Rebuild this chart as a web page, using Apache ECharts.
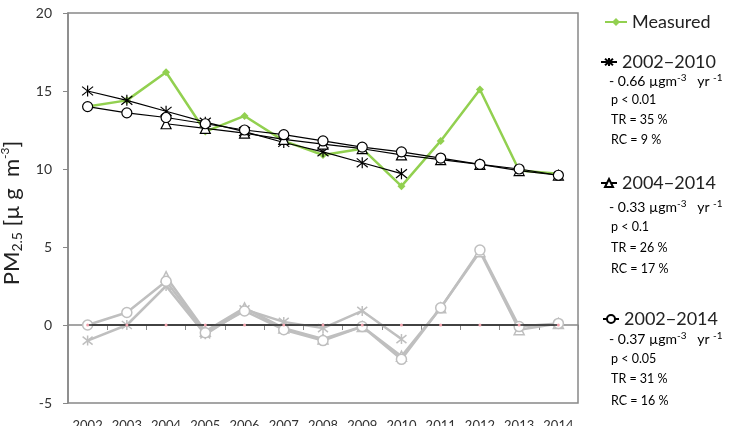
<!DOCTYPE html>
<html><head><meta charset="utf-8">
<script src="https://cdn.jsdelivr.net/npm/echarts@6/dist/echarts.min.js"></script>
<style>html,body{margin:0;padding:0;background:#fff}#c{width:732px;height:426px}</style>
</head><body><div id="c"></div>
<script>
var years = ['2002','2003','2004','2005','2006','2007','2008','2009','2010','2011','2012','2013','2014'];
var measured = [14.0, 14.4, 16.2, 12.4, 13.4, 11.8, 10.9, 11.3, 8.9, 11.8, 15.1, 9.9, 9.7];
var trend0210 = [15.0, 14.4, 13.7, 13.0, 12.4, 11.7, 11.1, 10.4, 9.7, null, null, null, null];
var trend0414 = [null, null, 12.9, 12.6, 12.3, 11.9, 11.6, 11.3, 10.9, 10.6, 10.3, 9.9, 9.6];
var trend0214 = [14.0, 13.6, 13.3, 12.9, 12.5, 12.2, 11.8, 11.4, 11.1, 10.7, 10.3, 10.0, 9.6];
var resid0210 = [-1.0, 0.0, 2.5, -0.6, 1.0, 0.2, -0.2, 0.9, -0.9, null, null, null, null];
var resid0414 = [null, null, 3.1, -0.4, 1.1, -0.2, -0.9, -0.1, -2.0, 1.1, 4.7, -0.3, 0.1];
var resid0214 = [0.0, 0.8, 2.8, -0.5, 0.9, -0.3, -1.0, -0.1, -2.2, 1.1, 4.8, -0.1, 0.1];
var zeroLine = [0, 0, 0, 0, 0, 0, 0, 0, 0, 0, 0, 0, 0];
var yTicks = {min: -5, max: 20, interval: 5};
var statLines = [
  ['- 0.66 ', 'p < 0.01', 'TR = 35 %', 'RC = 9 %'],
  ['- 0.33 ', 'p < 0.1', 'TR = 26 %', 'RC = 17 %'],
  ['- 0.37 ', 'p < 0.05', 'TR = 31 %', 'RC = 16 %']
];

var FONT = 'Lato';
var star = 'path://M0,-10L0,10M-8,-8L8,8M-8,8L8,-8';
var GRAY = '#bfbfbf';

function blackSeries(name, data, sym, size) {
  return {name: name, type: 'line', data: data, symbol: sym, symbolSize: size, z: 5,
    lineStyle: {color: '#000', width: 1.2}, itemStyle: {color: '#fff', borderColor: '#000', borderWidth: 1.2},
    emphasis: {disabled: true}};
}
function graySeries(data, sym, size) {
  return {type: 'line', data: data, symbol: sym, symbolSize: size, z: 3,
    lineStyle: {color: GRAY, width: 2.5}, itemStyle: {color: '#fff', borderColor: GRAY, borderWidth: 1.5},
    emphasis: {disabled: true}};
}

var series = [
  graySeries(resid0210, star, 10),
  graySeries(resid0414, 'triangle', 10),
  graySeries(resid0214, 'circle', 10),
  {type: 'line', data: zeroLine, symbol: 'circle', symbolSize: 3, z: 4,
   lineStyle: {color: '#222', width: 1.5}, itemStyle: {color: '#f4a6b0', borderWidth: 0}},
  {name: 'Measured', type: 'line', data: measured, symbol: 'diamond', symbolSize: 8, z: 4,
   lineStyle: {color: '#92d050', width: 2.5}, itemStyle: {color: '#92d050'}},
  blackSeries('2002\u22122010', trend0210, star, 11),
  blackSeries('2004\u22122014', trend0414, 'triangle', 10),
  blackSeries('2002\u22122014', trend0214, 'circle', 10)
];
series[5].itemStyle = {color: 'none', borderColor: '#000', borderWidth: 1.2};
series[0].itemStyle = {color: 'none', borderColor: GRAY, borderWidth: 1.5};

function leg(name, left, top, w) {
  return {data: [name], left: left, top: top, padding: 0, itemWidth: w, itemHeight: 10,
    selectedMode: false, itemGap: 4,
    textStyle: {fontFamily: FONT, fontSize: 18, color: '#222', lineHeight: 20}};
}

var rich = {
  t: {fontFamily: FONT, fontSize: 12.5, color: '#333', lineHeight: 16},
  u: {fontFamily: FONT, fontSize: 14, color: '#333', lineHeight: 16},
  s: {fontFamily: FONT, fontSize: 10, color: '#333', lineHeight: 10, verticalAlign: 'top'}
};
var graphics = [];
var blockTops = [81, 207, 339];
var gaps = [[0, 20, 40, 60], [0, 21, 42, 63], [0, 21, 41, 63]];
statLines.forEach(function (lines, b) {
  lines.forEach(function (txt, i) {
    var text = i === 0 ? '{u|' + txt + '\u00b5gm}{s|-3}{u|   yr }{s|-1}' : '{t|' + txt + '}';
    graphics.push({type: 'text', left: i === 0 ? 609 : 611, top: blockTops[b] + gaps[b][i] - 8,
      style: {text: text, rich: rich}});
  });
});

var chart = echarts.init(document.getElementById('c'));
chart.setOption({
  animation: false,
  backgroundColor: '#fff',
  grid: {left: 68, top: 13, right: 154, bottom: 23, show: true, borderColor: '#888', borderWidth: 1.5,
    outerBoundsMode: 'none', containLabel: false},
  legend: [
    leg('Measured', 604, 12, 22),
    leg('2002\u22122010', 600, 52, 16),
    leg('2004\u22122014', 600, 173, 16),
    leg('2002\u22122014', 602, 309, 16)
  ],
  xAxis: {type: 'category', data: years, boundaryGap: true,
    axisLine: {lineStyle: {color: '#888', width: 1.5}},
    axisTick: {show: true, length: 5, lineStyle: {color: '#888'}},
    axisLabel: {fontFamily: FONT, fontSize: 13, color: '#333', margin: 16, interval: 0}},
  yAxis: {type: 'value', min: yTicks.min, max: yTicks.max, interval: yTicks.interval,
    name: '{a|PM}{b|2.5}{a| [\u00b5 g  m}{c|-3}{a|]}', nameLocation: 'middle', nameGap: 42,
    nameTextStyle: {padding: [0, 10, 0, 0], rich: {
      a: {fontFamily: FONT, fontSize: 22, color: '#222', lineHeight: 26},
      b: {fontFamily: FONT, fontSize: 14, color: '#222', lineHeight: 14, verticalAlign: 'bottom'},
      c: {fontFamily: FONT, fontSize: 12, color: '#222', lineHeight: 12, verticalAlign: 'top'}
    }},
    splitLine: {show: false},
    axisLine: {show: true, lineStyle: {color: '#888', width: 1.5}},
    axisTick: {show: true, length: 5, lineStyle: {color: '#888'}},
    axisLabel: {fontFamily: FONT, fontSize: 14, color: '#333', margin: 16}},
  graphic: graphics,
  series: series
});
</script></body></html>
